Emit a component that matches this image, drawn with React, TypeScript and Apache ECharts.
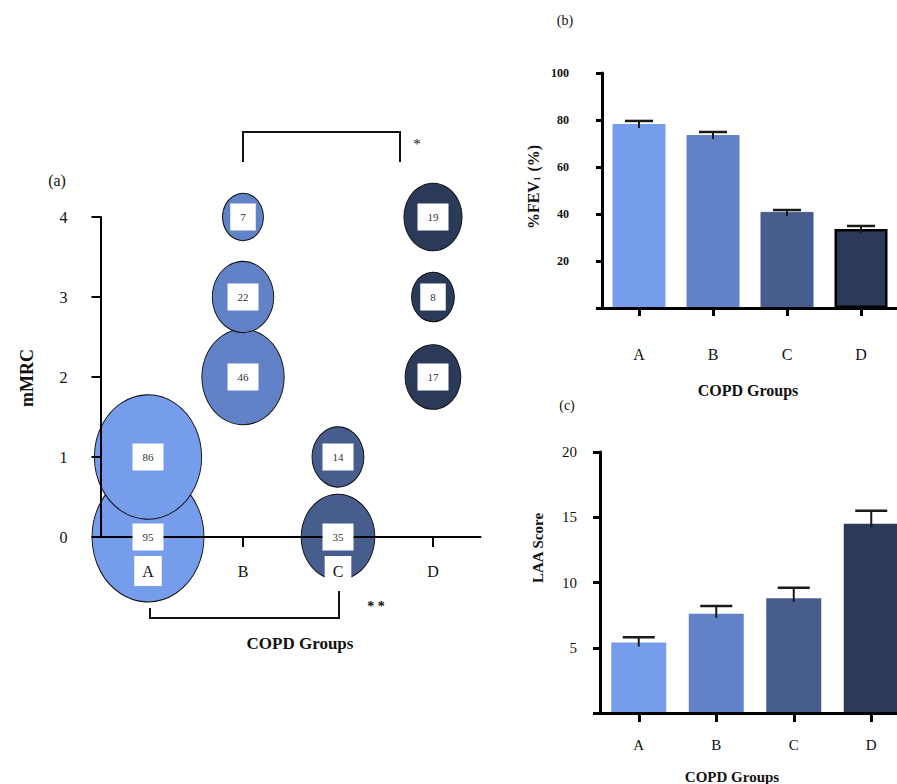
import React, { useEffect, useRef } from 'react';
import * as echarts from 'echarts';

// ---------- data ----------
const groups = ['A', 'B', 'C', 'D'];
const mmrcLevels = [0, 1, 2, 3, 4];
const mmrcCountsA = [95, 86, null, null, null];
const mmrcCountsB = [null, null, 46, 22, 7];
const mmrcCountsC = [35, 14, null, null, null];
const mmrcCountsD = [null, null, 17, 8, 19];
const fev1Mean = [78.3, 73.6, 40.9, 33.6];
const fev1Err = [1.3, 1.3, 0.8, 1.3];
const laaMean = [5.4, 7.6, 8.8, 14.5];
const laaErr = [0.4, 0.6, 0.8, 1.0];

const groupColors = ['#769CEC', '#6282C8', '#475D8E', '#2C3A5A'];
const SERIF = "'Liberation Serif', 'DejaVu Serif', 'Times New Roman', serif";

const countsByGroup = [mmrcCountsA, mmrcCountsB, mmrcCountsC, mmrcCountsD];

function bubbleSeriesData(gi: number) {
  const out: any[] = [];
  countsByGroup[gi].forEach((c, li) => {
    if (c != null) out.push([groups[gi], mmrcLevels[li], c]);
  });
  return out;
}

function errorRender(half: number) {
  return (params: any, api: any) => {
    const x = api.value(0);
    const m = api.value(1);
    const e = api.value(2);
    const top = api.coord([x, m + e]);
    const base = api.coord([x, m]);
    return {
      type: 'group',
      children: [
        {
          type: 'line',
          shape: { x1: top[0], y1: top[1], x2: top[0], y2: base[1] + 4 },
          style: { stroke: '#1a1a1a', lineWidth: 2 },
        },
        {
          type: 'line',
          shape: { x1: top[0] - half, y1: top[1], x2: top[0] + half, y2: top[1] },
          style: { stroke: '#1a1a1a', lineWidth: 2.5 },
        },
      ],
    };
  };
}

export default function App() {
  const ref = useRef<HTMLDivElement>(null);

  useEffect(() => {
    document.body.style.margin = '0';
    if (!ref.current) return;
    const chart = echarts.init(ref.current, null, { renderer: 'svg' });

    const bubbleSeries: any[] = groups.map((g, gi) => ({
      type: 'scatter',
      name: g,
      xAxisIndex: 0,
      yAxisIndex: 0,
      clip: false,
      data: bubbleSeriesData(gi),
      symbol: 'circle',
      symbolSize: (v: any) => {
        const w = 14.5 + 10 * Math.sqrt(v[2]);
        return [w, w * 1.16];
      },
      itemStyle: { color: groupColors[gi], borderColor: '#111', borderWidth: 1, opacity: 1 },
      emphasis: { disabled: true },
      z: 2,
    }));

    const labelSeries: any = {
      type: 'scatter',
      xAxisIndex: 0,
      yAxisIndex: 0,
      clip: false,
      data: groups.flatMap((g, gi) => bubbleSeriesData(gi)),
      symbolSize: 1,
      itemStyle: { color: 'rgba(0,0,0,0)', opacity: 1 },
      emphasis: { disabled: true },
      label: {
        show: true,
        position: 'inside',
        formatter: (p: any) => String(p.value[2]),
        backgroundColor: '#ffffff',
        opacity: 1,
        padding: [8, 10],
        fontSize: 11,
        color: '#333',
        fontFamily: SERIF,
      },
      z: 10,
    };

    const catAxisBase = (gridIndex: number, lw: number, tickLen: number, margin: number, fontSize: number) => ({
      type: 'category',
      gridIndex,
      data: groups,
      boundaryGap: true,
      axisLine: { show: true, lineStyle: { color: '#000', width: lw } },
      axisTick: { show: true, alignWithLabel: true, length: tickLen, lineStyle: { color: '#000', width: lw } },
      axisLabel: { margin, fontSize, color: '#111', fontFamily: SERIF },
      splitLine: { show: false },
      z: 5,
    });

    const option: any = {
      animation: false,
      grid: [
        { left: 100.5, top: 217, width: 380, height: 320, outerBoundsMode: 'none' },
        { left: 602, top: 73, width: 296, height: 235, outerBoundsMode: 'none' },
        { left: 600, top: 452, width: 310, height: 261, outerBoundsMode: 'none' },
      ],
      xAxis: [
        {
          ...catAxisBase(0, 2, 10, 19, 16),
          axisLabel: {
            margin: 19,
            color: '#111',
            fontFamily: SERIF,
            fontSize: 16,
            formatter: (v: string) => (v === 'A' || v === 'C' ? `{box|${v}}` : `{plain|${v}}`),
            rich: {
              box: { backgroundColor: '#fff', padding: [7, 8], fontSize: 16, fontFamily: SERIF, color: '#111' },
              plain: { padding: [7, 8], fontSize: 16, fontFamily: SERIF, color: '#111' },
            },
          },
        },
        catAxisBase(1, 3, 8, 38, 16),
        catAxisBase(2, 3, 9, 24, 15),
      ],
      yAxis: [
        {
          type: 'value',
          gridIndex: 0,
          min: 0,
          max: 4,
          interval: 1,
          axisLine: { show: true, lineStyle: { color: '#000', width: 2 } },
          axisTick: { show: true, length: 9, lineStyle: { color: '#000', width: 2 } },
          axisLabel: { margin: 33, fontSize: 16, color: '#111', fontFamily: SERIF },
          splitLine: { show: false },
          z: 5,
        },
        {
          type: 'value',
          gridIndex: 1,
          min: 0,
          max: 100,
          interval: 20,
          axisLine: { show: true, lineStyle: { color: '#000', width: 3 } },
          axisTick: { show: true, length: 6, lineStyle: { color: '#000', width: 3 } },
          axisLabel: {
            margin: 33,
            fontSize: 12,
            fontWeight: 'bold',
            color: '#111',
            fontFamily: SERIF,
            formatter: (v: number) => (v === 0 ? '' : String(v)),
          },
          splitLine: { show: false },
          z: 5,
        },
        {
          type: 'value',
          gridIndex: 2,
          min: 0,
          max: 20,
          interval: 5,
          axisLine: { show: true, lineStyle: { color: '#000', width: 3 } },
          axisTick: { show: true, length: 7, lineStyle: { color: '#000', width: 3 } },
          axisLabel: {
            margin: 23,
            fontSize: 15,
            color: '#111',
            fontFamily: SERIF,
            formatter: (v: number) => (v === 0 ? '' : String(v)),
          },
          splitLine: { show: false },
          z: 5,
        },
      ],
      series: [
        ...bubbleSeries,
        labelSeries,
        {
          type: 'bar',
          xAxisIndex: 1,
          yAxisIndex: 1,
          barWidth: 53,
          data: fev1Mean.map((v, i) => ({
            value: v,
            itemStyle: {
              color: groupColors[i],
              borderColor: i === 3 ? '#000' : groupColors[i],
              borderWidth: i === 3 ? 2.5 : 1,
            },
          })),
          z: 2,
        },
        {
          type: 'custom',
          xAxisIndex: 1,
          yAxisIndex: 1,
          data: fev1Mean.map((v, i) => [i, v, fev1Err[i]]),
          renderItem: errorRender(14),
          z: 3,
        },
        {
          type: 'bar',
          xAxisIndex: 2,
          yAxisIndex: 2,
          barWidth: 55,
          data: laaMean.map((v, i) => ({ value: v, itemStyle: { color: groupColors[i] } })),
          z: 2,
        },
        {
          type: 'custom',
          xAxisIndex: 2,
          yAxisIndex: 2,
          data: laaMean.map((v, i) => [i, v, laaErr[i]]),
          renderItem: errorRender(16),
          z: 3,
        },
      ],
      graphic: [
        { type: 'text', x: 57, y: 180, style: { text: '(a)', fontSize: 16, fontFamily: SERIF, fill: '#111', align: 'center', verticalAlign: 'middle' } },
        { type: 'text', x: 27, y: 378, rotation: Math.PI / 2, style: { text: 'mMRC', fontSize: 18, fontWeight: 'bold', fontFamily: SERIF, fill: '#111', align: 'center', verticalAlign: 'middle' } },
        { type: 'text', x: 300, y: 643, style: { text: 'COPD Groups', fontSize: 17, fontWeight: 'bold', fontFamily: SERIF, fill: '#111', align: 'center', verticalAlign: 'middle' } },
        { type: 'polyline', shape: { points: [[243, 162], [243, 132], [400, 132], [400, 162]] }, style: { stroke: '#111', lineWidth: 2, fill: 'none' } },
        { type: 'text', x: 417, y: 144, style: { text: '*', fontSize: 15, fontFamily: SERIF, fill: '#111', align: 'center', verticalAlign: 'middle' } },
        { type: 'polyline', shape: { points: [[150, 608], [150, 618], [339, 618], [339, 591]] }, style: { stroke: '#111', lineWidth: 2, fill: 'none' } },
        { type: 'text', x: 376, y: 606, style: { text: '* *', fontSize: 14, fontWeight: 'bold', fontFamily: SERIF, fill: '#111', align: 'center', verticalAlign: 'middle' } },
        { type: 'text', x: 565, y: 20, style: { text: '(b)', fontSize: 14, fontFamily: SERIF, fill: '#111', align: 'center', verticalAlign: 'middle' } },
        {
          type: 'text', x: 533, y: 187, rotation: Math.PI / 2,
          style: {
            text: '%FEV{s|1} (%)', fontSize: 16, fontWeight: 'bold', fontFamily: SERIF, fill: '#111', align: 'center', verticalAlign: 'middle',
            rich: { s: { fontSize: 9, fontWeight: 'bold', fontFamily: SERIF, fill: '#111', padding: [8, 1, 0, 0] } },
          },
        },
        { type: 'text', x: 748, y: 390, style: { text: 'COPD Groups', fontSize: 16, fontWeight: 'bold', fontFamily: SERIF, fill: '#111', align: 'center', verticalAlign: 'middle' } },
        { type: 'text', x: 567, y: 405, style: { text: '(c)', fontSize: 14, fontFamily: SERIF, fill: '#111', align: 'center', verticalAlign: 'middle' } },
        { type: 'text', x: 538, y: 548, rotation: Math.PI / 2, style: { text: 'LAA Score', fontSize: 15, fontWeight: 'bold', fontFamily: SERIF, fill: '#111', align: 'center', verticalAlign: 'middle' } },
        { type: 'text', x: 732, y: 777, style: { text: 'COPD Groups', fontSize: 15, fontWeight: 'bold', fontFamily: SERIF, fill: '#111', align: 'center', verticalAlign: 'middle' } },
      ],
    };

    chart.setOption(option);
    return () => chart.dispose();
  }, []);

  return <div ref={ref} style={{ width: 897, height: 784 }} />;
}
